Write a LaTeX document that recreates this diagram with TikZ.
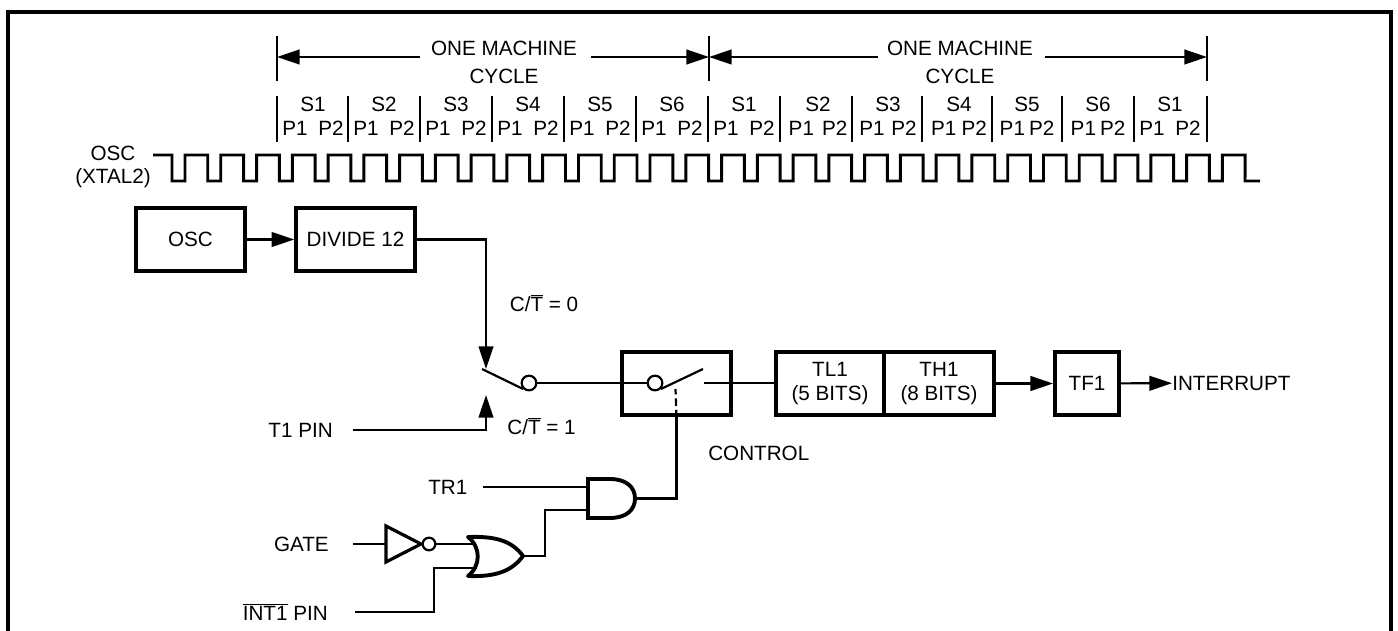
\documentclass[tikz,border=0pt]{standalone}
\usepackage{fontspec}
\setmainfont{Liberation Sans}
\usepackage{tikz}
\usetikzlibrary{arrows.meta}

\tikzset{
  thinline/.style={line width=1.65pt},
  thickline/.style={line width=2.9pt},
  tiparrow/.style={thinline,-{Triangle[length=17pt,width=11pt]}},
  regbox/.style={draw,thickline,minimum height=47.5pt,inner sep=0pt,align=center},
  label/.style={inner sep=0pt,align=center},
  contact/.style={draw,circle,thinline,fill=white,minimum size=11pt,inner sep=0pt},
}

\begin{document}
\begin{tikzpicture}[x=0.75pt,y=0.75pt,yscale=-1,font=\fontsize{15.5}{17.5}\selectfont]
\useasboundingbox (0,0) rectangle (1398,631);

%Frame
\draw [line width=2.4pt] (8,631) -- (8,12) -- (1391,12) -- (1391,631) ;

%Machine cycle ticks
\foreach \x in {277,709,1207} {
  \draw [thinline] (\x,36) -- (\x,81) ;
}
\coordinate (cyclea) at (277,57);
\coordinate (cycleb) at (709,57);
\coordinate (cyclec) at (1207,57);
\node [label] (onea) at (504,62.5) {ONE MACHINE\\[3pt]CYCLE};
\node [label] (oneb) at (960,62.5) {ONE MACHINE\\[3pt]CYCLE};
\coordinate (onealeft) at (420,57);
\coordinate (onearight) at (591,57);
\coordinate (oneblleft) at (878,57);
\coordinate (oneblright) at (1045,57);
\draw [tiparrow] (onealeft) -- (cyclea) ;
\draw [tiparrow] (onearight) -- (cycleb) ;
\draw [tiparrow] (oneblleft) -- (cycleb) ;
\draw [tiparrow] (oneblright) -- (cyclec) ;

%State ticks
\foreach \x in {277,348,420,492,564,636,708,780,852,922,992,1062,1134,1207} {
  \draw [thinline] (\x,96) -- (\x,142) ;
}

%State labels
\foreach \x/\s/\g/\n in {313/S1/8/a,384/S2/8/b,456/S3/8/c,528/S4/8/d,600/S5/8/e,672/S6/8/f,744/S1/8/g,818/S2/6/h,888/S3/5/i,959/S4/4/j,1027/S5/3/k,1098/S6/3/l,1170/S1/8/m} {
  \node [label] (state\n) at (\x,104) {\s};
  \node [label] (phase\n) at (\x,128) {P1\hspace{\g pt}P2};
}

%Clock
\node [label,anchor=east] (clk) at (151,167) {OSC\\(XTAL2)};
\draw [line width=2.2pt] (153,155) -- (172,155)
  \foreach \i in {0,...,29} { -- ({172+\i*35.77},181) -- ({185+\i*35.77},181) -- ({185+\i*35.77},155) -- ({207.77+\i*35.77},155) }
  -- (1245,181) -- (1260,181) ;

%Top row
\node [regbox,minimum width=82pt] (osc) at (190.5,239.5) {OSC};
\node [regbox,minimum width=89pt] (div) at (355.5,239.5) {DIVIDE 12};
\draw [tiparrow] (osc) -- (div) ;

%Mode switch
\coordinate (tipa) at (486,369);
\coordinate (tipb) at (486,395);
\coordinate (pole) at (482,369);
\node [contact] (cta) at (529,383) {};
\draw [tiparrow] (div.east) -| (tipa) ;
\draw [thinline] (pole) -- (cta.south west) ;
\node [label] (cteq) at (544,303) {C/$\overline{\mbox{T}}$ = 0};
\node [label] (cteq1) at (541.5,426) {C/$\overline{\mbox{T}}$ = 1};
\node [label,anchor=east] (tpin) at (333,430) {T1 PIN};
\coordinate (tpinend) at (353,430);
\draw [tiparrow] (tpinend) -| (tipb) ;

%Control box
\node [regbox,minimum width=82pt] (ctrl) at (676.5,383.5) {};
\node [contact] (ctb) at (655,383) {};
\coordinate (arm) at (703,369);
\coordinate (cont) at (704,383);
\draw [thinline] (cta) -- (ctb) ;
\draw [thinline] (ctb.south east) -- (arm) ;
\coordinate (ctrlpin) at (675.5,389);
\draw [thinline,dash pattern=on 5.5pt off 3pt] (ctrl.south) -- (ctrlpin) ;

%Counter
\node [regbox,minimum width=81pt] (tla) at (830,383.5) {TL1\\[1pt](5 BITS)};
\node [regbox,minimum width=82.5pt] (tha) at (939,383.5) {TH1\\[1pt](8 BITS)};
\node [regbox,minimum width=48pt] (tfa) at (1087,383.5) {TF1};
\node [label,anchor=west] (intr) at (1172,383) {INTERRUPT};
\draw [thinline] (cont) -- (tla.west |- cont) ;
\draw [tiparrow] (tha) -- (tfa) ;
\draw [tiparrow] (tfa) -- (intr) ;
\node [label,anchor=west] (ctltext) at (708,453) {CONTROL};

%Gates
\coordinate (anda) at (587,487);
\coordinate (andb) at (587,510);
\coordinate (ando) at (635,498.5);
\draw [thickline,line join=miter] (610,479) -- (588,479) -- (588,518) -- (610,518) .. controls (626,518) and (635,510) .. (ando) .. controls (635,487) and (626,479) .. (610,479) -- cycle ;
\coordinate (ora) at (473,544);
\coordinate (orb) at (477,568);
\coordinate (oro) at (523,556);
\draw [thickline,line join=round] (468,537) .. controls (496,536) and (512,541) .. (oro) .. controls (512,571) and (496,577) .. (468,576) .. controls (481,566) and (481,547) .. (468,537) -- cycle ;
\coordinate (nota) at (386,544);
\draw [line width=2.4pt] (386,526) -- (421,544) -- (386,562) -- cycle ;
\node [contact,minimum size=9.5pt] (bubble) at (429,544) {};

%Gate wiring
\node [label,anchor=west] (trtext) at (428,487) {TR1};
\node [label,anchor=east] (gatetext) at (329,544) {GATE};
\node [label,anchor=east] (inttext) at (328,612) {$\overline{\mbox{INT1}}$ PIN};
\coordinate (trend) at (483,487);
\coordinate (gateend) at (353,544);
\coordinate (intend) at (355,612);
\coordinate (jog) at (545,510);
\coordinate (jogb) at (434,612);
\draw [thinline] (trend) -- (anda) ;
\draw [thinline] (gateend) -- (nota) ;
\draw [thinline] (bubble) -- (ora) ;
\draw [thinline] (oro) -| (jog) -- (andb) ;
\draw [thinline] (intend) -- (jogb) |- (orb) ;
\draw [thinline] (ando) -| (ctrl.south) ;

\end{tikzpicture}
\end{document}
